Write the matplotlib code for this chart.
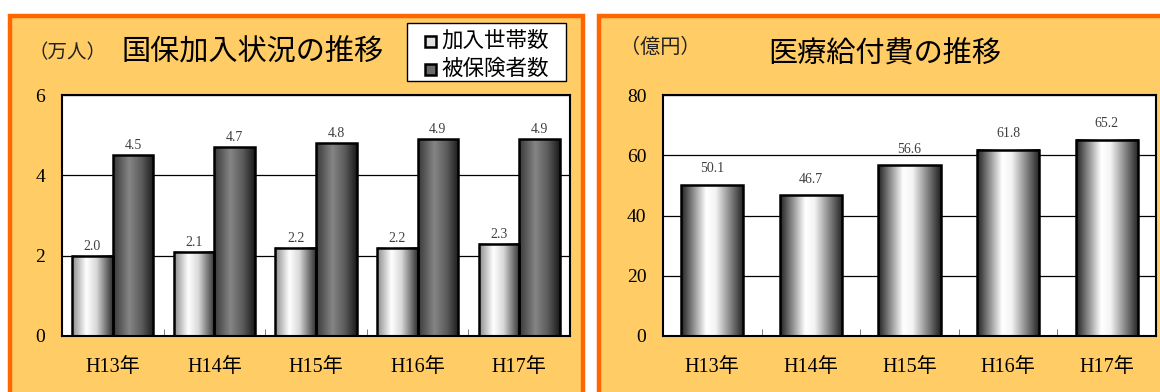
import numpy as np
import matplotlib.pyplot as plt
from matplotlib.patches import Rectangle
from matplotlib.colors import LinearSegmentedColormap

# data
years = ['H13年', 'H14年', 'H15年', 'H16年', 'H17年']
series = ['加入世帯数', '被保険者数']
households = [2.0, 2.1, 2.2, 2.2, 2.3]   # 加入世帯数 (万人)
insured = [4.5, 4.7, 4.8, 4.9, 4.9]      # 被保険者数 (万人)
benefits = [50.1, 46.7, 56.6, 61.8, 65.2]  # 医療給付費 (億円)

PANEL = '#FFCC66'
BORDER = '#FF6600'
serif = ['Liberation Serif', 'Noto Sans CJK JP']
gothic = ['Noto Sans CJK JP', 'DejaVu Sans']

light = LinearSegmentedColormap.from_list(
    'light', [(0, '#8a8a8a'), (0.35, '#ffffff'), (0.6, '#d8d8d8'), (1, '#303030')])
dark = LinearSegmentedColormap.from_list(
    'dark', [(0, '#383838'), (0.4, '#858585'), (0.7, '#5c5c5c'), (1, '#1a1a1a')])
cyl = LinearSegmentedColormap.from_list(
    'cyl', [(0, '#202020'), (0.4, '#ffffff'), (0.55, '#f4f4f4'), (1, '#202020')])

W, H = 1160, 392
fig = plt.figure(figsize=(W / 100, H / 100), dpi=100)
fig.patch.set_facecolor('white')


def px(x0, y0, w, h):
    # pixel box (from top-left) -> figure fraction
    return [x0 / W, 1 - (y0 + h) / H, w / W, h / H]


# orange panels
for x0, x1 in [(10, 583), (599, 1200)]:
    fig.patches.append(Rectangle((x0 / W, -0.1), (x1 - x0) / W, 1.1 - 16 / H,
                                 transform=fig.transFigure, facecolor=PANEL,
                                 edgecolor=BORDER, lw=3.2, zorder=-5))


def shade(ax, bars, cmap):
    grad = np.linspace(0, 1, 256).reshape(1, -1)
    for b in bars:
        x, w, h = b.get_x(), b.get_width(), b.get_height()
        ax.imshow(grad, cmap=cmap, extent=[x, x + w, 0, h], aspect='auto',
                  zorder=2, interpolation='bicubic')


def style(ax, ymax, step):
    ax.set_facecolor('white')
    ax.set_xlim(-0.5, 4.5)
    ax.set_ylim(0, ymax)
    ax.set_aspect('auto')
    ax.set_yticks(np.arange(0, ymax + 1, step))
    ax.set_xticks(range(len(years)))
    ax.set_xticklabels(years, family=serif, fontsize=14.5)
    for t in ax.get_yticklabels():
        t.set_family(serif)
        t.set_fontsize(14)
    ax.set_xticks(np.arange(0.5, 4, 1), minor=True)
    ax.tick_params(axis='x', which='major', length=0, pad=16)
    ax.tick_params(axis='x', which='minor', direction='in', length=5, color='#666666')
    ax.tick_params(axis='y', length=0, pad=12)
    ax.yaxis.grid(True, color='black', lw=0.9)
    ax.set_axisbelow(True)
    for s in ax.spines.values():
        s.set_color('black')
        s.set_linewidth(1.5)


# left chart: 国保加入状況
ax1 = fig.add_axes(px(62, 95, 508, 241))
x = np.arange(len(years))
b1 = ax1.bar(x - 0.2, households, 0.4, facecolor='none', edgecolor='black', lw=1.8, zorder=3)
b2 = ax1.bar(x + 0.2, insured, 0.4, facecolor='none', edgecolor='black', lw=1.8, zorder=3)
shade(ax1, b1, light)
shade(ax1, b2, dark)
for bars in (b1, b2):
    ax1.bar_label(bars, fmt='%.1f', padding=2, fontsize=10, family=serif, color='#404040')
style(ax1, 6, 2)

fig.text(28 / W, 1 - 53 / H, '（万人）', family=gothic, fontsize=14, va='center', color='#222222')
fig.text(122 / W, 1 - 53 / H, '国保加入状況の推移', family=gothic, fontsize=21, va='center')

# legend box drawn by hand to match the tight row spacing
fig.patches.append(Rectangle((407 / W, 1 - 81 / H), 159 / W, 58 / H, transform=fig.transFigure,
                             facecolor='white', edgecolor='black', lw=1.0, zorder=5))
for i, (name, fc) in enumerate(zip(series, ['#e0e0e0', '#6a6a6a'])):
    yc = 41 + 28 * i
    fig.patches.append(Rectangle((425 / W, 1 - (yc + 5.5) / H), 11 / W, 11 / H,
                                 transform=fig.transFigure, facecolor=fc,
                                 edgecolor='black', lw=1.8, zorder=6))
    fig.text(441 / W, 1 - yc / H, name, family=gothic, fontsize=15.5, va='center', zorder=6)

# right chart: 医療給付費
ax2 = fig.add_axes(px(663, 95, 493, 241))
b3 = ax2.bar(x, benefits, 0.63, facecolor='none', edgecolor='black', lw=1.8, zorder=3)
shade(ax2, b3, cyl)
ax2.bar_label(b3, fmt='%.1f', padding=7, fontsize=10, family=serif, color='#404040')
style(ax2, 80, 20)

fig.text(620 / W, 1 - 47 / H, '（億円）', family=gothic, fontsize=14.5, va='center', color='#222222')
fig.text(885 / W, 1 - 55 / H, '医療給付費の推移', family=gothic, fontsize=21,
         va='center', ha='center')

fig.savefig('out.png', dpi=100)
